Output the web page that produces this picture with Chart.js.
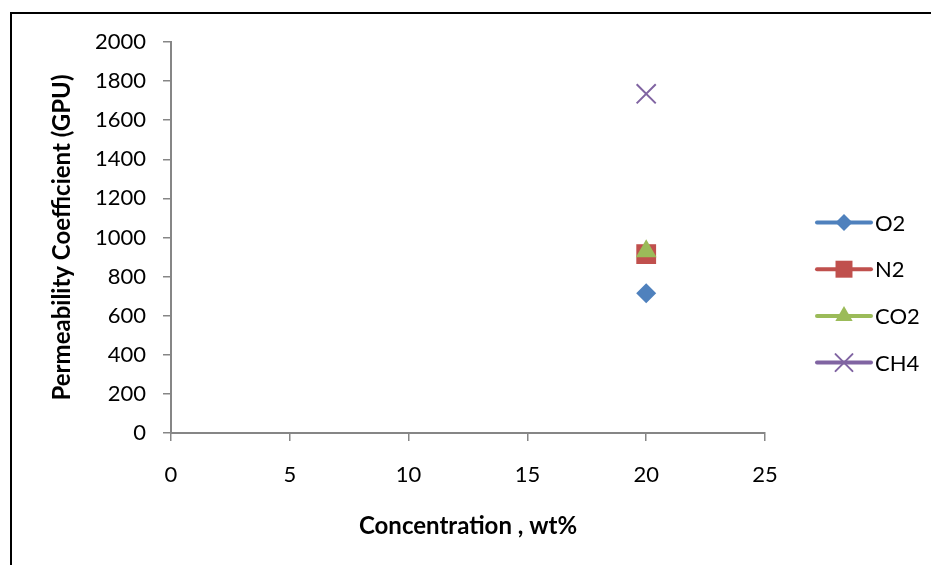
<!DOCTYPE html>
<html>
<head>
<meta charset="utf-8">
<script src="https://cdn.jsdelivr.net/npm/chart.js@4.4.1/dist/chart.umd.min.js"></script>
<style>
  html, body { margin: 0; padding: 0; background: #fff; overflow: hidden; }
  #wrap { position: relative; width: 931px; height: 565px; overflow: hidden; }
  #frame { position: absolute; left: 10px; top: 12px; width: 960px; height: 620px;
           border-top: 2px solid #000; border-left: 2px solid #000; }
  #c { position: absolute; left: 0; top: 0; }
</style>
</head>
<body>
<div id="wrap">
  <div id="frame"></div>
  <canvas id="c" width="931" height="565"></canvas>
</div>
<script>
// Measured permeability at each membrane concentration (wt%)
const concentration = [20];
const o2  = [715];
const n2  = [915];
const co2 = [930];
const ch4 = [1735];

const seriesNames  = ['O2', 'N2', 'CO2', 'CH4'];
const seriesColors = ['#4F81BD', '#C0504D', '#9BBB59', '#8064A2'];

const xTickValues = [0, 5, 10, 15, 20, 25];
const yTickValues = [0, 200, 400, 600, 800, 1000, 1200, 1400, 1600, 1800, 2000];

const xTitle = 'Concentration , wt%';
const yTitle = 'Permeability Coefficient (GPU)';

const FONT = 'Lato, "Open Sans", sans-serif';
const AXIS_GREY = '#868686';

// marker look per series: [style, radius, border width] in plot and in legend
const markerPlot   = [['rectRot', 10, 0], ['rect', 14, 0], ['triangle', 12, 0], ['crossRot', 13.5, 2]];
const markerLegend = [['rectRot', 8.5, 0], ['rect', 12, 0], ['triangle', 10, 0], ['crossRot', 12, 2]];

const seriesValues = [o2, n2, co2, ch4];

const datasets = seriesNames.map((name, i) => ({
  label: name,
  data: concentration.map((x, k) => ({ x: x, y: seriesValues[i][k] })),
  showLine: false,
  pointStyle: markerPlot[i][0],
  pointRadius: markerPlot[i][1],
  pointHoverRadius: markerPlot[i][1],
  pointBorderWidth: markerPlot[i][2],
  pointBackgroundColor: seriesColors[i],
  pointBorderColor: seriesColors[i],
  // later series paint over earlier ones
  order: seriesNames.length - i
}));

// Legend on the right: a short line with the series marker, then the name
const sideLegend = {
  id: 'sideLegend',
  afterDraw(chart) {
    const ctx = chart.ctx;
    const area = chart.chartArea;
    const x0 = area.right + 52, x1 = area.right + 106, xm = (x0 + x1) / 2;
    const yStart = 222.5, step = 46.7;
    ctx.save();
    seriesNames.forEach((name, i) => {
      const y = yStart + i * step;
      ctx.strokeStyle = seriesColors[i];
      ctx.lineWidth = 4;
      ctx.lineCap = 'round';
      ctx.beginPath();
      ctx.moveTo(x0, y);
      ctx.lineTo(x1, y);
      ctx.stroke();
      ctx.fillStyle = seriesColors[i];
      ctx.strokeStyle = seriesColors[i];
      ctx.lineWidth = markerLegend[i][2] || 1;
      Chart.helpers.drawPoint(ctx, {
        pointStyle: markerLegend[i][0],
        radius: markerLegend[i][1],
        rotation: 0,
        borderWidth: markerLegend[i][2]
      }, xm, y);
      ctx.fillStyle = '#000';
      ctx.font = '22px ' + FONT;
      ctx.textAlign = 'left';
      ctx.textBaseline = 'middle';
      ctx.fillText(name, x1 + 4, y + 1);
    });
    ctx.restore();
  }
};

new Chart(document.getElementById('c'), {
  type: 'scatter',
  data: { datasets },
  plugins: [sideLegend],
  options: {
    responsive: false,
    animation: false,
    devicePixelRatio: 1,
    layout: { padding: { top: 42, right: 166, bottom: 0, left: 0 } },
    plugins: { legend: { display: false }, tooltip: { enabled: false } },
    scales: {
      x: {
        type: 'linear',
        min: xTickValues[0],
        max: xTickValues[xTickValues.length - 1],
        afterBuildTicks(scale) { scale.ticks = xTickValues.map(v => ({ value: v })); },
        afterFit(scale) {
          scale.height = 132;
          scale.paddingLeft = 0; scale.paddingRight = 0;
        },
        grid: { drawOnChartArea: false, drawTicks: true, tickLength: 8, color: AXIS_GREY, lineWidth: 1.5 },
        border: { display: true, color: AXIS_GREY, width: 2 },
        ticks: { color: '#000', font: { family: FONT, size: 22 }, padding: 21, maxRotation: 0,
                 callback: v => String(v) },
        title: {
          display: true, text: xTitle, color: '#000',
          font: { family: FONT, size: 24, weight: 'bold', lineHeight: 1 },
          padding: { top: 0, bottom: 27 }
        }
      },
      y: {
        type: 'linear',
        min: yTickValues[0],
        max: yTickValues[yTickValues.length - 1],
        afterBuildTicks(scale) { scale.ticks = yTickValues.map(v => ({ value: v })); },
        afterFit(scale) {
          scale.width = 171;
          scale.paddingTop = 0; scale.paddingBottom = 0;
        },
        grid: { drawOnChartArea: false, drawTicks: true, tickLength: 8, color: AXIS_GREY, lineWidth: 1.5 },
        border: { display: true, color: AXIS_GREY, width: 2 },
        ticks: { color: '#000', font: { family: FONT, size: 22 }, padding: 17,
                 callback: v => String(v) },
        title: {
          display: true, text: yTitle, color: '#000',
          font: { family: FONT, size: 24, weight: 'bold', lineHeight: 1 },
          padding: { top: 50, bottom: 0 }
        }
      }
    }
  }
});
</script>
</body>
</html>
